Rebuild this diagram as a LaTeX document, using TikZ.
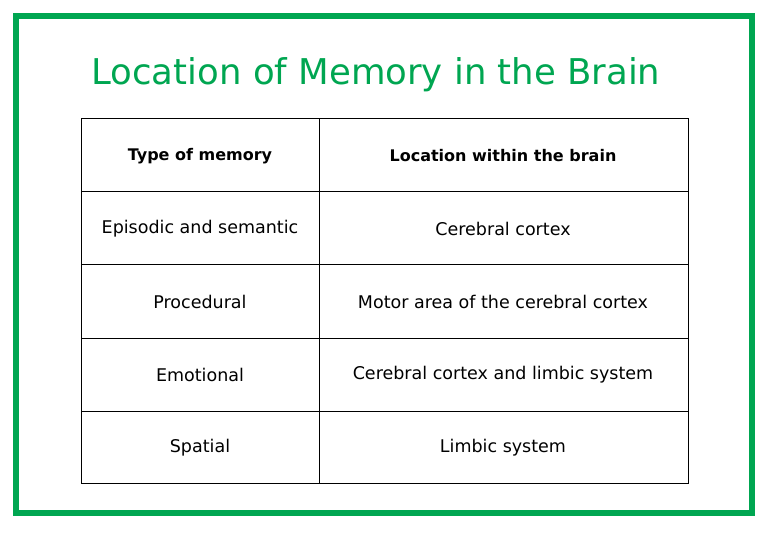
\documentclass[tikz,border=0pt]{standalone}
\usepackage{fontspec}
\setmainfont{DejaVu Sans}
\definecolor{grn}{RGB}{0,166,81}
\begin{document}
\begin{tikzpicture}[x=1pt,y=-1pt,
  cell/.style={font=\fontsize{17.5}{20}\selectfont,anchor=center},
  hcell/.style={font=\fontsize{16}{20}\selectfont\bfseries,anchor=center}]
\useasboundingbox (0,0) rectangle (777,540);
\draw[grn,line width=6pt] (16,16) rectangle (752,513);
\node[text=grn,font=\fontsize{35.5}{40}\selectfont] (title) at (376,75) {Location of Memory in the Brain};
\draw[line width=1pt] (81,119) rectangle (688,483);
\foreach \y in {192,265,338,411} \draw[line width=1pt] (81,\y) -- (688,\y);
\draw[line width=1pt] (319,119) -- (319,483);
\node[hcell] (h1) at (200,156) {Type of memory};
\node[hcell] (h2) at (503,156) {Location within the brain};
\node[cell] (a1) at (200,229) {Episodic and semantic};
\node[cell] (a2) at (503,229) {Cerebral cortex};
\node[cell] (b1) at (200,302) {Procedural};
\node[cell] (b2) at (503,302) {Motor area of the cerebral cortex};
\node[cell] (c1) at (200,375) {Emotional};
\node[cell] (c2) at (503,375) {Cerebral cortex and limbic system};
\node[cell] (d1) at (200,448) {Spatial};
\node[cell] (d2) at (503,448) {Limbic system};
\end{tikzpicture}
\end{document}
